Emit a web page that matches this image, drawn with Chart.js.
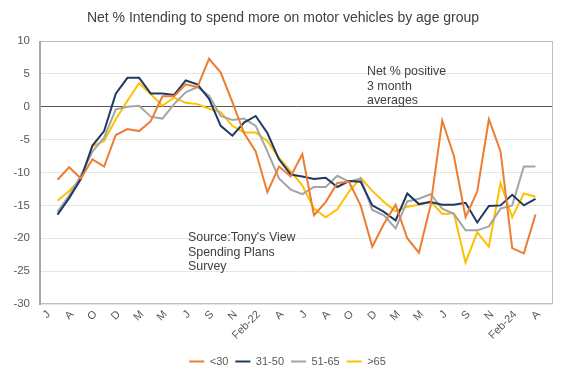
<!DOCTYPE html>
<html><head><meta charset="utf-8">
<script src="https://cdn.jsdelivr.net/npm/chart.js@4"></script>
<style>html,body{margin:0;padding:0;background:#fff}#wrap{width:562px;height:377px;position:relative}</style>
</head><body><div id="wrap"><canvas id="c" width="562" height="377"></canvas></div>
<script>
const categories = ["J","J","A","S","O","N","D","F","M","A","M","J","J","A","S","O","N","D","Feb-22","M","A","M","J","J","A","S","O","N","D","Feb-23","M","A","M","J","J","A","S","O","N","D","Feb-24","M","A","M"];
const under30 = [null,-11.1,-9.2,-10.9,-8.0,-9.1,-4.3,-3.4,-3.7,-2.2,1.6,1.6,3.4,3.0,7.3,5.2,0.7,-4.0,-6.8,-13.0,-9.1,-10.6,-7.2,-16.5,-14.5,-11.6,-11.4,-15.0,-21.3,-17.8,-14.9,-20.0,-22.2,-15.0,-2.1,-7.5,-16.8,-12.9,-1.9,-6.8,-21.5,-22.3,-16.4,null];
const age31to50 = [null,-16.4,-13.9,-11.0,-5.9,-3.7,2.0,4.4,4.4,2.0,2.0,1.8,4.0,3.4,1.2,-2.9,-4.4,-2.4,-1.4,-4.0,-8.0,-10.3,-10.6,-11.0,-10.8,-12.2,-11.3,-11.4,-15.0,-16.0,-17.3,-13.2,-14.8,-14.5,-14.9,-14.9,-14.6,-17.6,-15.1,-15.0,-13.4,-15.0,-14.0,null];
const age51to65 = [null,-16.0,-13.5,-10.5,-6.8,-4.7,-0.4,0.0,0.15,-1.5,-1.8,0.4,2.2,3.0,1.7,-1.4,-2.0,-1.8,-2.9,-6.8,-10.9,-12.6,-13.3,-12.2,-12.2,-10.5,-11.4,-10.9,-15.7,-16.5,-18.5,-14.4,-14.0,-13.3,-15.5,-16.3,-18.8,-18.8,-18.2,-15.5,-15.0,-9.1,-9.1,null];
const over65 = [null,-14.3,-12.8,-11.0,-6.0,-5.2,-1.9,0.9,3.6,1.9,0.15,1.4,0.6,0.4,-0.3,-0.8,-2.9,-3.9,-3.9,-5.2,-7.8,-9.8,-12.0,-15.5,-16.8,-15.6,-12.9,-10.8,-12.8,-14.5,-15.9,-15.2,-14.9,-14.4,-16.3,-16.2,-23.7,-19.1,-21.3,-11.6,-16.8,-13.2,-13.7,null];
const seriesNames = ["<30","31-50","51-65",">65"];
const yTicks = {min:-30, max:10, step:5};
const titleText = "Net % Intending to spend more on motor vehicles by age group";
const noteText = ["Net % positive","3 month","averages"];
const sourceText = ["Source:Tony's View","Spending Plans","Survey"];

const FONT = "'Liberation Sans', Arial, sans-serif";
const colors = ["#ED7D31","#1F3864","#A5A5A5","#FFC000"];
const seriesData = [under30, age31to50, age51to65, over65];

const extras = {
  id:'extras',
  afterLayout(chart){
    const l = chart.legend;
    if (l) { l.left += 11; l.right += 11; }
  },
  beforeDraw(chart){
    const ctx = chart.ctx;
    ctx.save();
    ctx.fillStyle = '#fff';
    ctx.fillRect(0,0,chart.width,chart.height);
    ctx.restore();
  },
  afterDatasetsDraw(chart){
    const ctx = chart.ctx, a = chart.chartArea;
    ctx.save();
    ctx.strokeStyle = '#bfbfbf'; ctx.lineWidth = 1;
    ctx.strokeRect(a.left+0.5, a.top+0.5, a.right-a.left-1, a.bottom-a.top-1);
    ctx.strokeStyle = '#a6a6a6'; ctx.lineWidth = 2;
    ctx.beginPath(); ctx.moveTo(a.left, a.top); ctx.lineTo(a.left, a.bottom+1); ctx.stroke();
    ctx.fillStyle = '#404040';
    ctx.font = "14px " + FONT;
    ctx.textAlign = 'center'; ctx.textBaseline = 'middle';
    ctx.fillText(titleText, 283, 18);
    ctx.font = "12.4px " + FONT;
    ctx.textAlign = 'left';
    noteText.forEach((t,i)=>ctx.fillText(t, a.left + 327, a.top + 31 + i*14.3));
    sourceText.forEach((t,i)=>ctx.fillText(t, a.left + 148, a.top + 197 + i*14.5));
    ctx.restore();
  }
};

new Chart(document.getElementById('c'), {
  type:'line',
  data:{
    labels:categories,
    datasets: seriesNames.map((n,i)=>({
      label:n, data:seriesData[i], borderColor:colors[i], backgroundColor:colors[i],
      borderWidth:2, pointRadius:0, tension:0, spanGaps:false
    }))
  },
  options:{
    responsive:false, animation:false, devicePixelRatio:1,
    layout:{padding:{left:0,right:9,top:41,bottom:0}},
    plugins:{
      title:{display:false},
      tooltip:{enabled:false},
      legend:{
        position:'bottom',
        labels:{usePointStyle:true, pointStyle:'line', pointStyleWidth:15, boxHeight:11, padding:7,
          color:'#595959', font:{family:FONT, size:11}}
      }
    },
    scales:{
      x:{
        offset:true,
        grid:{display:false, drawTicks:false},
        border:{display:false},
        ticks:{autoSkip:false, maxRotation:45, minRotation:45, padding:4, labelOffset:3, color:'#595959',
          font:{family:FONT,size:11},
          callback:function(v,i){ return i%2===0 ? this.getLabelForValue(v) : null; }},
        afterFit(s){ s.height = 45; }
      },
      y:{
        min:yTicks.min, max:yTicks.max,
        ticks:{stepSize:yTicks.step, padding:10, color:'#595959', font:{family:FONT,size:11.5}},
        grid:{drawTicks:false, color:(c)=> c.tick && c.tick.value===0 ? '#595959' : '#e6e6e6', lineWidth:1},
        border:{display:false},
        afterFit(s){ s.width = 40; }
      }
    }
  },
  plugins:[extras]
});
</script></body></html>
